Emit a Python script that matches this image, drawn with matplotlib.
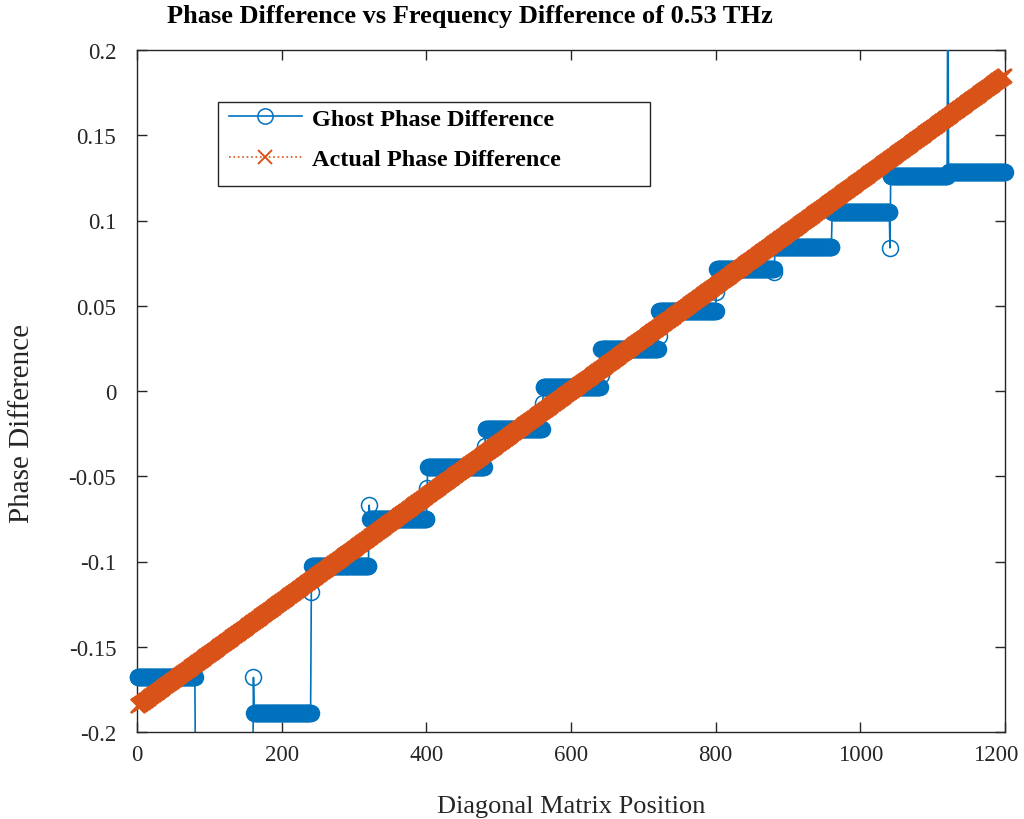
import numpy as np
import matplotlib
matplotlib.use("Agg")
import matplotlib.pyplot as plt
import matplotlib.transforms as mtransforms
from matplotlib.lines import Line2D
from matplotlib.patches import Rectangle

# ---- data ----
step_len = 80
# level of each 80-point step of the ghost phase difference
step_levels = [-0.168, -0.235, -0.189, -0.1026, -0.075, -0.0446, -0.0223, 0.0023,
               0.0246, 0.0469, 0.0716, 0.0845, 0.105, 0.126, 0.1285]
# value of the first point of each step (transition sample)
step_first = [-0.168, -0.235, -0.168, -0.118, -0.067, -0.057, -0.032, -0.007,
              0.0094, 0.0323, 0.058, 0.0698, 0.105, 0.084, 0.26]
actual_start = -0.185
actual_end = 0.185
n_points = 1200

x_ticks = [0, 200, 400, 600, 800, 1000, 1200]
y_ticks = [-0.2, -0.15, -0.1, -0.05, 0, 0.05, 0.1, 0.15, 0.2]
y_ticklabels = ["-0.2", "-0.15", "-0.1", "-0.05", "0", "0.05", "0.1", "0.15", "0.2"]

# ---- build series ----
ghost = np.repeat(step_levels, step_len).astype(float)
ghost[::step_len] = step_first
pos = np.arange(1, n_points + 1)
actual = np.linspace(actual_start, actual_end, n_points)

plt.rcParams['font.family'] = ['Liberation Serif', 'DejaVu Serif']
blue = '#0072BD'
orange = '#D95319'
dark = '#262626'

W, H = 1024, 820
fig = plt.figure(figsize=(W/100, H/100), dpi=100)
ax = fig.add_axes([137/W, 87/H, 868/W, 682/H])
ymin, ymax = -0.2, 0.2

# ghost: line clipped to axes, markers of in-range points not clipped (MATLAB-like)
ax.plot(pos, ghost, '-', color=blue, lw=1.2, zorder=2)
inr = (ghost >= ymin) & (ghost <= ymax)
ax.plot(pos[inr], ghost[inr], 'o', color=blue, ms=11.5, mew=1.1,
        markerfacecolor='none', zorder=2, clip_on=False)
ax.plot(pos, actual, ':x', color=orange, lw=1.2, ms=10, mew=1.6,
        zorder=3, clip_on=False)

ax.set_xlim(0, 1200)
ax.set_ylim(ymin, ymax)
ax.set_xticks(x_ticks)
ax.set_yticks(y_ticks)
ax.set_yticklabels(y_ticklabels)
ax.tick_params(direction='in', top=True, right=True, length=7, width=1,
               labelsize=16.5, colors=dark)
ax.tick_params(axis='y', pad=15)
ax.tick_params(axis='x', pad=9)
for s in ax.spines.values():
    s.set_color(dark)
    s.set_linewidth(1.0)
    s.set_zorder(1)

# shift the last x tick label left so it stays inside the figure
last = ax.get_xticklabels()[-1]
last.set_transform(last.get_transform() +
                   mtransforms.ScaledTranslation(-9/100, 0, fig.dpi_scale_trans))

ax.set_xlabel('Diagonal Matrix Position', fontsize=19, color=dark, labelpad=21)
ax.set_ylabel('Phase Difference', fontsize=21, color=dark)
ax.yaxis.set_label_coords((35 - 137) / 868, (H - 423 - 87) / 682)
fig.text(470/W, 1 - 17/H, 'Phase Difference vs Frequency Difference of 0.53 THz',
         ha='center', va='center', fontsize=19, fontweight='bold')

# legend box (MATLAB style, wider than the text)
ax.add_patch(Rectangle((218/W, 1 - 187/H), 432/W, 84/H, transform=fig.transFigure,
                       facecolor='white', edgecolor=dark, lw=1.0, zorder=4,
                       clip_on=False))

handles = [
    Line2D([], [], color=blue, lw=1.2, marker='o', ms=11, mew=1.1, markerfacecolor='none'),
    Line2D([], [], color=orange, lw=1.2, ls=':', marker='x', ms=10, mew=1.4),
]
labels = ['Ghost Phase Difference', 'Actual Phase Difference']
leg = ax.legend(handles, labels, loc='upper left',
                bbox_to_anchor=(81/868, 1 - 47/682),
                prop={'weight': 'bold', 'size': 17.5}, numpoints=1,
                handlelength=3.0, frameon=False,
                borderpad=0.45, labelspacing=0.75, handletextpad=0.4,
                borderaxespad=0)
leg.set_zorder(5)

fig.savefig('out.png', dpi=100)
